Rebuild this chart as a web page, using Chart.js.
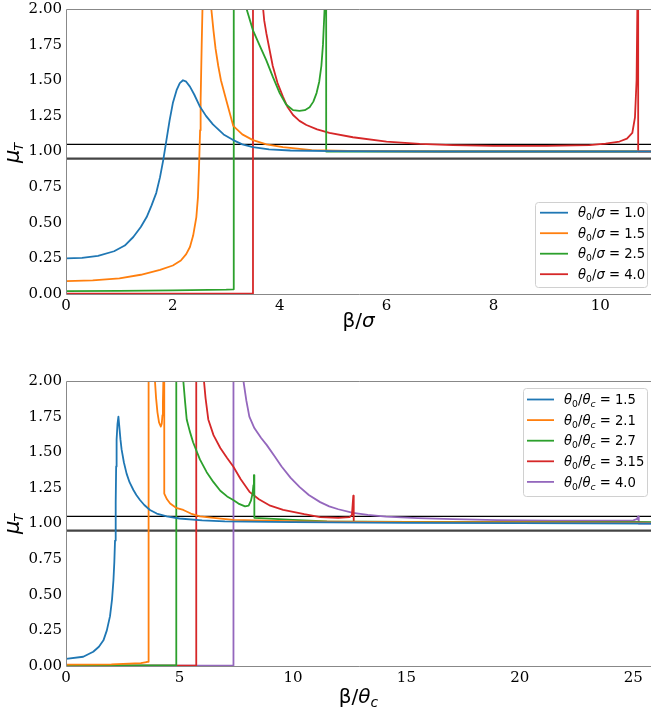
<!DOCTYPE html>
<html>
<head>
<meta charset="utf-8">
<script src="https://cdn.jsdelivr.net/npm/chart.js@4.4.0/dist/chart.umd.min.js"></script>
<style>
  html, body { margin: 0; padding: 0; background: #fff; }
  #wrap { position: relative; width: 651px; height: 711px; overflow: hidden; }
  canvas { position: absolute; left: 0; }
</style>
</head>
<body>
<div id="wrap">
  <canvas id="c1" width="651" height="340" style="top:0px"></canvas>
  <canvas id="c2" width="651" height="371" style="top:340px"></canvas>
</div>
<script>
// ---------------- DATA ----------------
const yTicks = [0, 0.25, 0.5, 0.75, 1.0, 1.25, 1.5, 1.75, 2.0];
const topXTicks = [0, 2, 4, 6, 8, 10];
const bottomXTicks = [0, 5, 10, 15, 20, 25];
const refLevels = [1.05, 0.95];

// top panel: theta0/sigma
const topValues = ['1.0', '1.5', '2.5', '4.0'];
const s10X = [0, 0.3, 0.6, 0.9, 1.1, 1.26, 1.4, 1.51, 1.6, 1.69, 1.76, 1.82, 1.88, 1.94, 2.0, 2.07, 2.13, 2.19, 2.25, 2.32, 2.4, 2.5, 2.62, 2.75, 2.95, 3.13, 3.3, 3.5, 3.8, 4.2, 5, 7, 10.95];
const s10Y = [0.25, 0.253, 0.268, 0.30, 0.34, 0.40, 0.47, 0.54, 0.62, 0.71, 0.82, 0.94, 1.08, 1.22, 1.34, 1.43, 1.48, 1.50, 1.49, 1.455, 1.40, 1.32, 1.25, 1.19, 1.12, 1.08, 1.05, 1.03, 1.015, 1.007, 1.003, 1.0, 1.0];
const s15X = [0, 0.5, 1.0, 1.4, 1.76, 2.0, 2.15, 2.25, 2.32, 2.38, 2.44, 2.47, 2.49, 2.51, 2.52, 2.54, 2.56, 2.62, 2.68, 2.72, 2.76, 2.8, 2.85, 2.9, 3.0, 3.13, 3.3, 3.5, 3.75, 4.06, 4.6, 5.5, 7, 10.95];
const s15Y = [0.09, 0.095, 0.11, 0.135, 0.17, 0.20, 0.235, 0.28, 0.33, 0.41, 0.54, 0.68, 0.89, 1.15, 1.36, 1.75, 2.1, 2.6, 2.4, 2.0, 1.85, 1.72, 1.60, 1.50, 1.36, 1.18, 1.12, 1.08, 1.05, 1.03, 1.01, 1.003, 1.0, 1.0];
const s25X = [0, 1, 2, 3.0, 3.13, 3.14, 3.2, 3.3, 3.38, 3.5, 3.63, 3.75, 3.87, 4.0, 4.12, 4.25, 4.37, 4.47, 4.56, 4.63, 4.69, 4.74, 4.78, 4.81, 4.84, 4.86, 4.87, 4.87, 6, 8, 10.69];
const s25Y = [0.02, 0.022, 0.026, 0.031, 0.033, 2.6, 2.6, 2.4, 2.0, 1.85, 1.74, 1.64, 1.525, 1.41, 1.33, 1.29, 1.285, 1.29, 1.31, 1.35, 1.41, 1.49, 1.60, 1.75, 2.0, 2.4, 2.4, 1.0, 1.0, 1.0, 1.0];
const s40X = [0, 1, 2, 3, 3.49, 3.5, 3.6, 3.69, 3.71, 3.75, 3.87, 3.96, 4.06, 4.15, 4.25, 4.37, 4.5, 4.7, 4.93, 5.37, 6.0, 6.62, 7.24, 8, 9, 9.8, 10.1, 10.36, 10.5, 10.6, 10.65, 10.68, 10.7, 10.71, 10.71, 10.95];
const s40Y = [0.003, 0.003, 0.003, 0.003, 0.003, 2.6, 2.4, 2.0, 1.92, 1.83, 1.60, 1.48, 1.385, 1.31, 1.256, 1.215, 1.186, 1.155, 1.13, 1.10, 1.07, 1.053, 1.045, 1.04, 1.04, 1.045, 1.055, 1.07, 1.09, 1.13, 1.24, 1.5, 2.2, 2.6, 1.0, 1.0];

// bottom panel: theta0/theta_c
const bottomValues = ['1.5', '2.1', '2.7', '3.15', '4.0'];
const c15X = [0, 0.76, 1.2, 1.45, 1.65, 1.8, 1.94, 2.03, 2.09, 2.13, 2.16, 2.19, 2.21, 2.23, 2.27, 2.31, 2.35, 2.4, 2.45, 2.55, 2.67, 2.8, 2.97, 3.1, 3.26, 3.45, 3.7, 4.0, 4.44, 5, 6, 7, 10, 15, 20, 25.8];
const c15Y = [0.05, 0.065, 0.10, 0.135, 0.18, 0.25, 0.35, 0.47, 0.60, 0.73, 0.88, 1.15, 1.40, 1.59, 1.70, 1.75, 1.68, 1.59, 1.52, 1.43, 1.35, 1.29, 1.235, 1.20, 1.165, 1.13, 1.095, 1.07, 1.05, 1.035, 1.022, 1.015, 1.01, 1.005, 1.003, 1.0];
const c21X = [0, 2, 3.3, 3.55, 3.63, 3.64, 3.75, 3.92, 3.97, 4.03, 4.1, 4.18, 4.22, 4.25, 4.27, 4.29, 4.31, 4.33, 4.33, 4.45, 4.59, 4.85, 5.17, 5.5, 5.9, 6.5, 7.37, 10.3, 15, 20, 25.8];
const c21Y = [0.01, 0.012, 0.02, 0.028, 0.03, 2.6, 2.5, 2.0, 1.88, 1.78, 1.71, 1.68, 1.70, 1.76, 1.85, 2.0, 2.3, 2.3, 1.21, 1.17, 1.14, 1.11, 1.095, 1.07, 1.05, 1.04, 1.025, 1.015, 1.01, 1.008, 1.005];
const c27X = [0, 4.85, 4.86, 5.0, 5.17, 5.25, 5.32, 5.45, 5.6, 5.9, 6.2, 6.5, 6.8, 7.1, 7.37, 7.6, 7.89, 8.05, 8.15, 8.22, 8.26, 8.28, 8.3, 8.3, 10, 11.5, 15, 20, 25.8];
const c27Y = [0.005, 0.005, 2.6, 2.4, 2.0, 1.85, 1.73, 1.65, 1.57, 1.45, 1.36, 1.29, 1.23, 1.19, 1.165, 1.14, 1.12, 1.125, 1.16, 1.21, 1.27, 1.34, 1.34, 1.04, 1.025, 1.015, 1.012, 1.01, 1.01];
const c315X = [0, 5.73, 5.74, 5.9, 6.08, 6.15, 6.27, 6.5, 6.8, 7.1, 7.37, 7.7, 8.1, 8.5, 9.0, 9.57, 10.5, 11.2, 12.0, 12.5, 12.6, 12.66, 12.68, 12.68, 15, 20, 25.2, 25.8];
const c315Y = [0.003, 0.003, 2.6, 2.4, 2.0, 1.88, 1.73, 1.62, 1.53, 1.46, 1.40, 1.31, 1.22, 1.17, 1.125, 1.095, 1.065, 1.045, 1.04, 1.045, 1.06, 1.195, 1.195, 1.013, 1.012, 1.01, 1.01, 1.005];
const c40X = [0, 7.37, 7.38, 7.6, 7.82, 7.95, 8.08, 8.3, 8.6, 8.85, 9.2, 9.5, 9.9, 10.3, 10.7, 11.2, 11.6, 12.0, 12.65, 13.3, 14.1, 15.5, 17.05, 19, 21.5, 24, 25.0, 25.15, 25.22, 25.24, 25.24, 25.8];
const c40Y = [0.003, 0.003, 2.6, 2.3, 2.0, 1.86, 1.75, 1.67, 1.60, 1.55, 1.47, 1.40, 1.32, 1.255, 1.20, 1.15, 1.12, 1.10, 1.075, 1.06, 1.048, 1.038, 1.03, 1.024, 1.02, 1.02, 1.022, 1.03, 1.05, 1.05, 1.0, 1.0];

// ---------------- STYLE ----------------
const COLORS = ['#1f77b4', '#ff7f0e', '#2ca02c', '#d62728', '#9467bd'];
const TICK_FONT = { family: 'DejaVu Serif', size: 15 };

function pts(xs, ys) { return xs.map((x, i) => ({ x: x, y: ys[i] })); }

function curve(xs, ys, color) {
  return { data: pts(xs, ys), borderColor: color, borderWidth: 1.8, pointRadius: 0, tension: 0, fill: false, borderJoinStyle: 'round' };
}
function refLine(level, xmax, color, width) {
  return { data: [{ x: 0, y: level }, { x: xmax, y: level }], borderColor: color, borderWidth: width, pointRadius: 0, fill: false };
}

function drawRuns(ctx, runs, x, y, size, measureOnly) {
  let cx = x;
  for (const r of runs) {
    const fs = r.sub ? size * 0.7 : size;
    ctx.font = (r.it ? 'italic ' : '') + fs + 'px "DejaVu Sans"';
    const dy = r.sub ? size * 0.22 : 0;
    if (!measureOnly) ctx.fillText(r.t, cx, y + dy);
    cx += ctx.measureText(r.t).width;
  }
  return cx - x;
}

const decorPlugin = {
  id: 'decor',
  afterDatasetsDraw(chart, args, opts) {
    const ctx = chart.ctx;
    const a = chart.chartArea;
    ctx.save();
    // frame
    ctx.strokeStyle = '#888';
    ctx.lineWidth = 1;
    ctx.beginPath();
    ctx.moveTo(a.left + 0.5, a.top + 0.5); ctx.lineTo(a.right + 2, a.top + 0.5);
    ctx.moveTo(a.left + 0.5, a.top + 0.5); ctx.lineTo(a.left + 0.5, a.bottom + 0.5);
    ctx.moveTo(a.left + 0.5, a.bottom + 0.5); ctx.lineTo(a.right + 2, a.bottom + 0.5);
    ctx.stroke();

    ctx.fillStyle = '#000';
    ctx.textBaseline = 'alphabetic';
    // y title (mu_T), rotated
    ctx.save();
    ctx.translate(opts.yTitleX, opts.yTitleY);
    ctx.rotate(-Math.PI / 2);
    ctx.font = 'italic 21px "DejaVu Sans"';
    ctx.fillText('μ', 0, 0);
    const mw = ctx.measureText('μ').width;
    ctx.font = 'italic 13px "DejaVu Sans"';
    ctx.fillText('T', mw - 1, 4);
    ctx.restore();

    // x title
    const w = drawRuns(ctx, opts.xTitle, 0, 0, opts.xTitleSize, true);
    drawRuns(ctx, opts.xTitle, (a.left + a.right) / 2 - w / 2, opts.xTitleY, opts.xTitleSize, false);

    // legend
    const L = opts.legend;
    ctx.fillStyle = 'rgba(255,255,255,0.85)';
    ctx.strokeStyle = '#d0d0d0';
    ctx.lineWidth = 1;
    ctx.beginPath();
    if (ctx.roundRect) ctx.roundRect(L.x + 0.5, L.y + 0.5, L.w, L.h, 3); else ctx.rect(L.x + 0.5, L.y + 0.5, L.w, L.h);
    ctx.fill();
    ctx.stroke();
    L.items.forEach((it, i) => {
      const yc = L.row0 + i * L.dy;
      ctx.strokeStyle = COLORS[i];
      ctx.lineWidth = 1.8;
      ctx.beginPath();
      ctx.moveTo(L.lx0, yc); ctx.lineTo(L.lx1, yc);
      ctx.stroke();
      ctx.fillStyle = '#000';
      drawRuns(ctx, it, L.tx, yc + L.size * 0.36, L.size, false);
    });
    ctx.restore();
  }
};

function makeChart(id, datasets, xmax, xticks, padTop, xAxisH, decor) {
  return new Chart(document.getElementById(id), {
    type: 'line',
    data: { datasets: datasets },
    plugins: [decorPlugin],
    options: {
      responsive: false,
      animation: false,
      devicePixelRatio: 1,
      layout: { padding: { top: padTop, left: 0, right: 0, bottom: 0 } },
      plugins: { legend: { display: false }, tooltip: { enabled: false }, decor: decor },
      scales: {
        x: {
          type: 'linear', min: 0, max: xmax,
          afterBuildTicks: s => { s.ticks = xticks.map(v => ({ value: v })); },
          afterFit: s => { s.height = xAxisH; s.paddingLeft = 0; s.paddingRight = 0; },
          ticks: { font: TICK_FONT, color: '#000', padding: 3, maxRotation: 0, autoSkip: false, callback: v => String(v) },
          grid: { display: false, drawTicks: false },
          border: { display: false }
        },
        y: {
          type: 'linear', min: 0, max: 2,
          afterBuildTicks: s => { s.ticks = yTicks.map(v => ({ value: v })); },
          afterFit: s => { s.width = 66; s.paddingTop = 0; s.paddingBottom = 0; },
          ticks: { font: TICK_FONT, color: '#000', padding: 4, callback: v => Number(v).toFixed(2) },
          grid: { display: false, drawTicks: false },
          border: { display: false }
        }
      }
    }
  });
}

const TOP_XMAX = 10.95, BOT_XMAX = 25.78;

const topSeries = [[s10X, s10Y], [s15X, s15Y], [s25X, s25Y], [s40X, s40Y]];
const topDatasets = topSeries.map((s, i) => curve(s[0], s[1], COLORS[i]));
topDatasets.push(refLine(refLevels[0], TOP_XMAX, '#000', 1.4));
topDatasets.push(refLine(refLevels[1], TOP_XMAX, '#444', 2.4));

const botSeries = [[c15X, c15Y], [c21X, c21Y], [c27X, c27Y], [c315X, c315Y], [c40X, c40Y]];
const botDatasets = botSeries.map((s, i) => curve(s[0], s[1], COLORS[i]));
botDatasets.push(refLine(refLevels[0], BOT_XMAX, '#000', 1.4));
botDatasets.push(refLine(refLevels[1], BOT_XMAX, '#444', 2.4));

const topItems = topValues.map(v => [{ t: 'θ', it: true }, { t: '0', sub: true }, { t: '/' }, { t: 'σ', it: true }, { t: ' = ' + v }]);
const botItems = bottomValues.map(v => [{ t: 'θ', it: true }, { t: '0', sub: true }, { t: '/' }, { t: 'θ', it: true }, { t: 'c', it: true, sub: true }, { t: ' = ' + v }]);

makeChart('c1', topDatasets, TOP_XMAX, topXTicks, 9, 46, {
  yTitleX: 19, yTitleY: 163,
  xTitle: [{ t: 'β' }, { t: '/' }, { t: 'σ', it: true }], xTitleSize: 20, xTitleY: 327,
  legend: { x: 535, y: 202, w: 112, h: 85, row0: 212.7, dy: 20.5, lx0: 540, lx1: 568, tx: 578, size: 13.2, items: topItems }
});

makeChart('c2', botDatasets, BOT_XMAX, bottomXTicks, 41, 45, {
  yTitleX: 19, yTitleY: 194,
  xTitle: [{ t: 'β' }, { t: '/' }, { t: 'θ', it: true }, { t: 'c', it: true, sub: true }], xTitleSize: 20, xTitleY: 363,
  legend: { x: 523, y: 48, w: 124, h: 108, row0: 59.5, dy: 20.6, lx0: 527, lx1: 554, tx: 564, size: 13.2, items: botItems }
});
</script>
</body>
</html>
